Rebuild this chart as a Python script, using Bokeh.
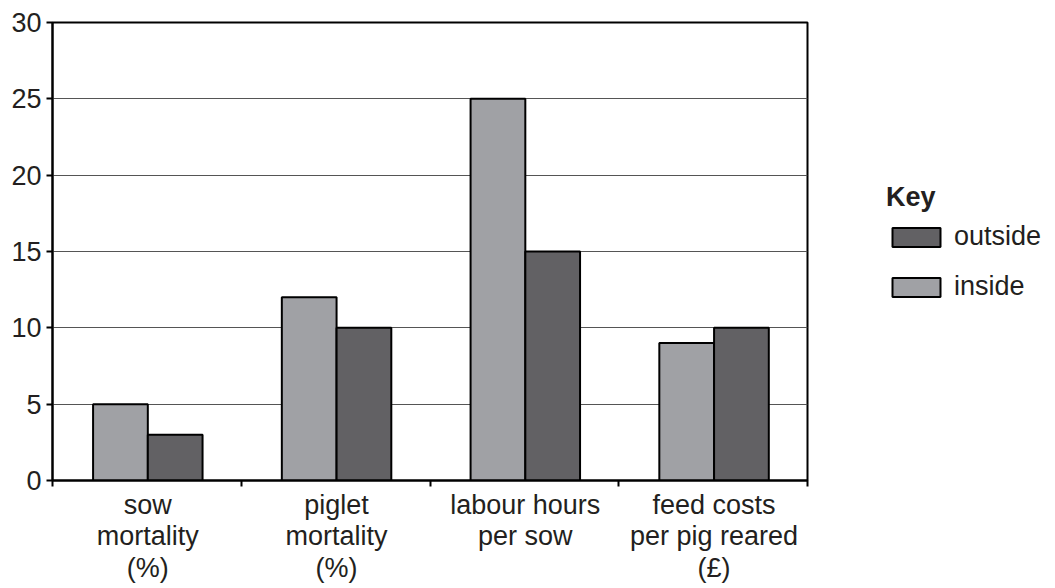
from bokeh.plotting import figure
from bokeh.layouts import row
from bokeh.models import (ColumnDataSource, FixedTicker, Legend, LegendItem)
from bokeh.embed import file_html
from bokeh.resources import INLINE

categories = ["sow\nmortality\n(%)", "piglet\nmortality\n(%)",
              "labour hours\nper sow", "feed costs\nper pig reared\n(£)"]
inside = [5, 12, 25, 9]
outside = [3, 10, 15, 10]
y_ticks = [0, 5, 10, 15, 20, 25, 30]
series_labels = ["outside", "inside"]

FONT = "Liberation Sans"
TXT = "#231f20"
INSIDE_C = "#a0a1a5"
OUTSIDE_C = "#626164"

idx = list(range(len(categories)))
centers = [i + 0.505 for i in idx]
W = 0.29
src = ColumnDataSource(dict(
    xi=[c - W / 2 for c in centers],
    xo=[c + W / 2 for c in centers],
    inside=inside, outside=outside))

H = 586
p = figure(width=830, height=H, x_range=(0, len(categories)), y_range=(0, 30),
           output_backend="svg", toolbar_location=None,
           min_border_left=52, min_border_top=22, min_border_right=23, min_border_bottom=106)

p.vbar(x="xi", top="inside", width=W, bottom=0, source=src,
       fill_color=INSIDE_C, line_color="black", line_width=2)
p.vbar(x="xo", top="outside", width=W, bottom=0, source=src,
       fill_color=OUTSIDE_C, line_color="black", line_width=2)

# x axis: labels at group centres, ticks at group boundaries
xa = p.xaxis[0]
xa.ticker = FixedTicker(ticks=centers, minor_ticks=[0, 1, 2, 3, 4])
xa.major_label_overrides = {c: lab for c, lab in zip(centers, categories)}
xa.major_tick_line_color = None
xa.major_tick_out = 6
xa.major_tick_in = 0
xa.minor_tick_line_color = "black"
xa.minor_tick_line_width = 2
xa.minor_tick_out = 6
xa.minor_tick_in = 0
xa.axis_line_color = "black"
xa.axis_line_width = 2
xa.major_label_text_font = FONT
xa.major_label_text_font_size = "27px"
xa.major_label_text_color = TXT
xa.major_label_text_line_height = 1.05
xa.major_label_standoff = 3

ya = p.yaxis[0]
ya.ticker = FixedTicker(ticks=y_ticks, minor_ticks=[])
ya.major_tick_out = 6
ya.major_tick_in = 0
ya.major_tick_line_color = "black"
ya.major_tick_line_width = 2
ya.axis_line_color = "black"
ya.axis_line_width = 2
ya.major_label_text_font = FONT
ya.major_label_text_font_size = "27px"
ya.major_label_text_color = TXT
ya.major_label_standoff = 5

p.xgrid.grid_line_color = None
p.ygrid.grid_line_color = "#555555"
p.ygrid.grid_line_width = 1
p.outline_line_color = "black"
p.outline_line_width = 2
p.background_fill_color = "white"
p.border_fill_color = "white"

# key panel (swatch renderers hold a single undrawn point)
k = figure(width=222, height=H, x_range=(0, 1), y_range=(0, 1),
           x_axis_type=None, y_axis_type=None,
           output_backend="svg", toolbar_location=None,
           min_border_left=0, min_border_right=0, min_border_top=0, min_border_bottom=0)
k.grid.grid_line_color = None
k.outline_line_color = None
k.background_fill_color = "white"
k.border_fill_color = "white"
nan = float("nan")
k_out = k.vbar(x=[nan], top=[nan], bottom=[nan], width=0.1,
               fill_color=OUTSIDE_C, line_color="black", line_width=2)
k_in = k.vbar(x=[nan], top=[nan], bottom=[nan], width=0.1,
              fill_color=INSIDE_C, line_color="black", line_width=2)

legend = Legend(items=[LegendItem(label=series_labels[0], renderers=[k_out]),
                       LegendItem(label=series_labels[1], renderers=[k_in])],
                title="Key", location=(56, 178))
legend.title_text_font = FONT
legend.title_text_font_size = "27px"
legend.title_text_font_style = "bold"
legend.title_text_color = TXT
legend.title_standoff = 8
legend.label_text_font = FONT
legend.label_text_font_size = "27px"
legend.label_text_color = TXT
legend.glyph_width = 60
legend.glyph_height = 24
legend.label_standoff = 8
legend.spacing = 19
legend.padding = 0
legend.margin = 0
legend.border_line_color = None
legend.background_fill_alpha = 0
k.add_layout(legend, "center")

layout = row(p, k)
open("out.html", "w").write(file_html(layout, INLINE))
